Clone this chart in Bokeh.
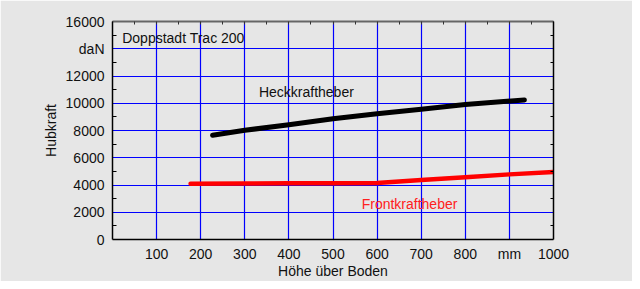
from bokeh.plotting import figure
from bokeh.models import LinearAxis, FixedTicker, Range1d
from bokeh.embed import file_html
from bokeh.resources import INLINE
from bokeh.core.properties import value

# Data
heck_x = [227, 300, 400, 500, 600, 700, 800, 934]
heck_y = [7650, 8015, 8425, 8860, 9225, 9560, 9910, 10245]
front_x = [177, 300, 400, 500, 600, 700, 800, 900, 1000]
front_y = [4100, 4110, 4120, 4130, 4150, 4370, 4560, 4780, 4950]

x_ticks = [100, 200, 300, 400, 500, 600, 700, 800, 900, 1000]
x_labels = {900: "mm"}
y_ticks = [0, 2000, 4000, 6000, 8000, 10000, 12000, 14000, 16000]
y_labels = {14000: "daN"}

FONT = "Liberation Sans"
BG = "#e6e6e6"

p = figure(width=632, height=281, output_backend="svg", toolbar_location=None,
           x_range=Range1d(0, 1000), y_range=Range1d(0, 16000),
           min_border_left=112, min_border_right=79, min_border_top=21, min_border_bottom=40)
p.background_fill_color = BG
p.border_fill_color = BG
p.outline_line_color = None

# grids
p.xgrid.ticker = FixedTicker(ticks=[100, 200, 300, 400, 500, 600, 700, 800, 900])
p.ygrid.ticker = FixedTicker(ticks=[2000, 4000, 6000, 8000, 10000, 12000, 14000])
for g in (p.xgrid, p.ygrid):
    g.grid_line_color = "#0000ff"
    g.grid_line_width = 1.2

# bottom axis
xa = p.xaxis[0]
xa.ticker = FixedTicker(ticks=x_ticks)
xa.major_label_overrides = x_labels
xa.major_tick_out = 0
xa.major_tick_in = 0
xa.minor_tick_out = 0
xa.minor_tick_in = 0
xa.axis_line_color = "black"
xa.axis_line_width = 1.5
xa.major_label_standoff = 6
xa.major_label_text_font = FONT
xa.major_label_text_font_size = "14px"
xa.major_label_text_color = "#111111"
xa.axis_label = "Höhe über Boden"
xa.axis_label_text_font = FONT
xa.axis_label_text_font_size = "14px"
xa.axis_label_text_font_style = "normal"
xa.axis_label_text_color = "#111111"
xa.axis_label_standoff = -2

# left axis
ya = p.yaxis[0]
ya.ticker = FixedTicker(ticks=y_ticks, minor_ticks=[1000, 3000, 5000, 7000, 9000, 11000, 13000, 15000])
ya.major_label_overrides = y_labels
ya.major_tick_out = 0
ya.major_tick_in = 0
ya.minor_tick_out = 0
ya.minor_tick_in = 4
ya.axis_line_color = "black"
ya.axis_line_width = 1.5
ya.major_label_standoff = 8
ya.major_label_text_font = FONT
ya.major_label_text_font_size = "14px"
ya.major_label_text_color = "#111111"
ya.axis_label = "Hubkraft"
ya.axis_label_text_font = FONT
ya.axis_label_text_font_size = "14px"
ya.axis_label_text_font_style = "normal"
ya.axis_label_text_color = "#111111"
ya.axis_label_standoff = 4

# top axis (frame with small ticks)
ta = LinearAxis(ticker=FixedTicker(ticks=[], minor_ticks=list(range(0, 1001, 50))))
ta.axis_line_color = "#666666"
ta.axis_line_width = 2
ta.minor_tick_in = 3
ta.minor_tick_out = 0
ta.major_tick_in = 0
ta.major_tick_out = 0
ta.minor_tick_line_color = "#333333"
ta.major_label_text_font_size = "0px"
p.add_layout(ta, "above")

# right axis
ra = LinearAxis(ticker=FixedTicker(ticks=[], minor_ticks=[1000, 3000, 5000, 7000, 9000, 11000, 13000, 15000]))
ra.axis_line_color = "black"
ra.axis_line_width = 1.5
ra.minor_tick_in = 3
ra.minor_tick_out = 0
ra.major_tick_in = 0
ra.major_tick_out = 0
ra.major_label_text_font_size = "0px"
p.add_layout(ra, "right")

# lines
p.line(heck_x, heck_y, line_color="black", line_width=5, line_cap="round", line_join="round")
p.line(front_x, front_y, line_color="#ff0000", line_width=4.5, line_cap="round", line_join="round")

# texts
p.text(x=[22], y=[14810], text=["Doppstadt Trac 200"], text_font=value(FONT),
       text_font_size="14px", text_baseline="middle", text_align="left", text_color="#111111")
p.text(x=[332], y=[10800], text=["Heckkraftheber"], text_font=value(FONT),
       text_font_size="14px", text_baseline="middle", text_align="left", text_color="#111111")
p.text(x=[565], y=[2590], text=["Frontkraftheber"], text_font=value(FONT),
       text_font_size="14px", text_baseline="middle", text_align="left", text_color="#ff2020")

open("out.html", "w").write(file_html(p, INLINE))
